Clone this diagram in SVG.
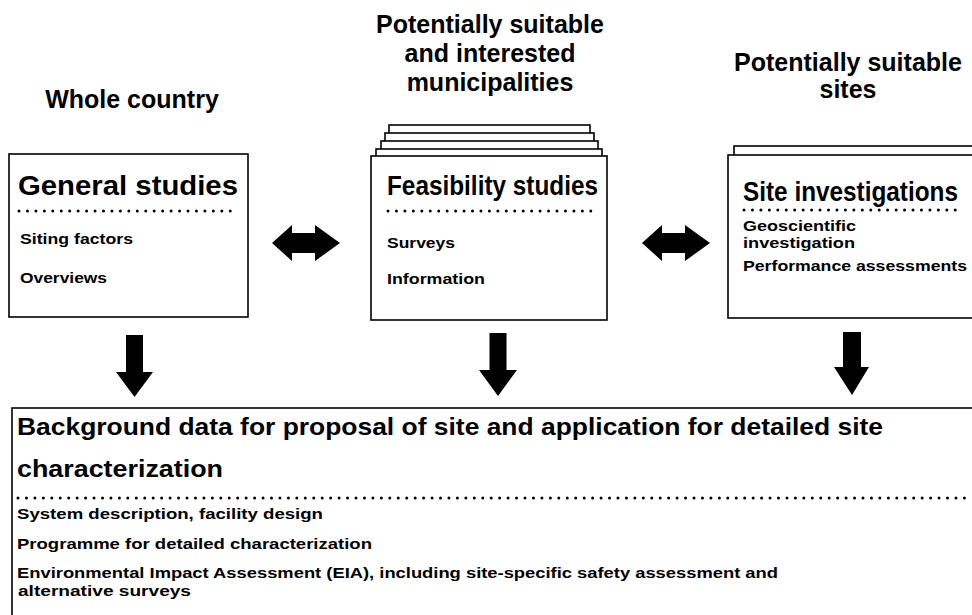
<svg xmlns="http://www.w3.org/2000/svg" width="972" height="615" viewBox="0 0 972 615">
<style>
text{font-family:"Liberation Sans",Arial,sans-serif;font-weight:bold;fill:#000}
.hdr{font-size:25px;text-anchor:middle}
.ttl{font-size:27px}
.big{font-size:24px}
.item{font-size:15px}
.box{fill:#fff;stroke:#000;stroke-width:1.6}
.dots{stroke:#000;stroke-width:3;stroke-linecap:round;stroke-dasharray:0 8.45;fill:none}
.arrow{fill:#000}
</style>
<rect width="972" height="615" fill="#fff"/>
<g id="headers">
<text class="hdr" x="132" y="108">Whole country</text>
<text class="hdr" x="490" y="33">Potentially suitable</text>
<text class="hdr" x="490" y="62">and interested</text>
<text class="hdr" x="490" y="91">municipalities</text>
<text class="hdr" x="848" y="71">Potentially suitable</text>
<text class="hdr" x="848" y="98">sites</text>
</g>
<g id="general-studies">
<rect class="box" x="9" y="154" width="239" height="163"/>
<text class="ttl" x="18" y="195" textLength="220" lengthAdjust="spacingAndGlyphs">General studies</text>
<line class="dots" x1="19" y1="211" x2="238" y2="211"/>
<text class="item" x="20" y="244" textLength="113" lengthAdjust="spacingAndGlyphs">Siting factors</text>
<text class="item" x="20" y="283" textLength="87" lengthAdjust="spacingAndGlyphs">Overviews</text>
</g>
<g id="feasibility-studies">
<rect class="box" x="389" y="125" width="201" height="40"/>
<rect class="box" x="385" y="133" width="209" height="40"/>
<rect class="box" x="381" y="141" width="217" height="40"/>
<rect class="box" x="376" y="149" width="226" height="40"/>
<rect class="box" x="371" y="156" width="236" height="164"/>
<text class="ttl" x="387" y="195" textLength="211" lengthAdjust="spacingAndGlyphs">Feasibility studies</text>
<line class="dots" x1="388" y1="211" x2="598" y2="211"/>
<text class="item" x="387" y="248" textLength="68" lengthAdjust="spacingAndGlyphs">Surveys</text>
<text class="item" x="387" y="284" textLength="98" lengthAdjust="spacingAndGlyphs">Information</text>
</g>
<g id="site-investigations">
<rect class="box" x="734" y="146" width="250" height="20"/>
<rect class="box" x="728" y="155" width="256" height="163"/>
<text class="ttl" x="743" y="201" textLength="215" lengthAdjust="spacingAndGlyphs">Site investigations</text>
<line class="dots" x1="744" y1="210" x2="960" y2="210"/>
<text class="item" x="743" y="231" textLength="113" lengthAdjust="spacingAndGlyphs">Geoscientific</text>
<text class="item" x="743" y="248" textLength="112" lengthAdjust="spacingAndGlyphs">investigation</text>
<text class="item" x="743" y="271" textLength="224" lengthAdjust="spacingAndGlyphs">Performance assessments</text>
</g>
<g id="background-data">
<rect class="box" x="12" y="408" width="975" height="230"/>
<text class="big" x="17" y="435" textLength="866" lengthAdjust="spacingAndGlyphs">Background data for proposal of site and application for detailed site</text>
<text class="big" x="17" y="477" textLength="206" lengthAdjust="spacingAndGlyphs">characterization</text>
<line class="dots" x1="18" y1="498" x2="966" y2="498"/>
<text class="item" x="17" y="519" textLength="306" lengthAdjust="spacingAndGlyphs">System description, facility design</text>
<text class="item" x="17" y="549" textLength="355" lengthAdjust="spacingAndGlyphs">Programme for detailed characterization</text>
<text class="item" x="17" y="578" textLength="761" lengthAdjust="spacingAndGlyphs">Environmental Impact Assessment (EIA), including site-specific safety assessment and</text>
<text class="item" x="18" y="596" textLength="173" lengthAdjust="spacingAndGlyphs">alternative surveys</text>
</g>
<g id="connectors">
<polygon class="arrow" points="272,243 292,225 292,233 315,233 315,225 340,243 315,261 315,253 292,253 292,261"/>
<polygon class="arrow" points="642,243 662,225 662,233 685,233 685,225 710,243 685,261 685,253 662,253 662,261"/>
<polygon class="arrow" points="126,335 143,335 143,372 153,372 134.5,397 116,372 126,372"/>
<polygon class="arrow" points="489.5,333 506.5,333 506.5,370 517,370 498,396 479,370 489.5,370"/>
<polygon class="arrow" points="843,332 861,332 861,367 869,367 852,395 834,367 843,367"/>
</g>
</svg>
